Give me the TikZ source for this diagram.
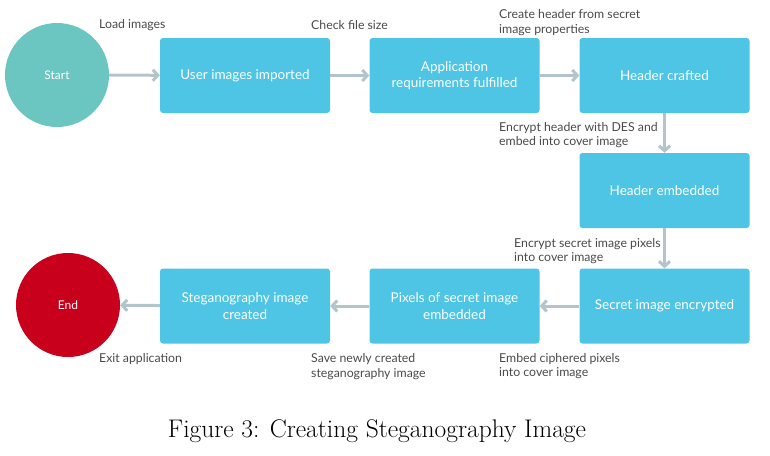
\documentclass[tikz,border=0pt]{standalone}
\usepackage{fontspec}
\newfontfamily\lato{Lato}
\usepackage{tikz}
\usetikzlibrary{arrows.meta}
\usetikzlibrary{positioning}
\definecolor{boxblue}{HTML}{4EC5E4}
\definecolor{startteal}{HTML}{6BC6C1}
\definecolor{endred}{HTML}{C8001C}
\definecolor{arrowgray}{HTML}{B4C4CB}
\definecolor{labelgray}{HTML}{4A4A4A}

\tikzset{
 stage/.style = {fill=boxblue, text=white, rounded corners=3pt, minimum width=170pt,
   minimum height=75pt, align=center, font=\lato\fontsize{13.5}{16.5}\selectfont},
 terminal/.style = {circle, minimum size=104pt, text=white, font=\lato\fontsize{12}{14}\selectfont},
 flow/.style = {draw=arrowgray, line width=3pt, -{Straight Barb[length=5pt,width=11pt]}},
 note/.style = {anchor=base west, align=left, text=labelgray, inner sep=0pt,
   font=\lato\fontsize{12.3}{14.5}\selectfont}
}

\begin{document}
\begin{tikzpicture}[x=1pt, y=-1pt]
\useasboundingbox (0,0) rectangle (770,455);

\node[terminal, fill=startteal] (start) at (57,75) {Start};
\node[stage] (imported) at (245,75.5) {User images imported};
\node[stage] (fulfilled) at (454.5,75.5) {Application\\requirements fulfilled};
\node[stage] (crafted) at (664.5,75.5) {Header crafted};
\node[stage] (embedded) at (664.5,190.5) {Header embedded};
\node[stage] (encrypted) at (664.5,306) {Secret image encrypted};
\node[stage] (pixels) at (454.5,306) {Pixels of secret image\\embedded};
\node[stage] (created) at (245,306) {Steganography image\\created};
\node[terminal, fill=endred] (finish) at (68,305) {End};

\draw[flow] (start) -- (imported);
\draw[flow] (imported) -- (fulfilled);
\draw[flow] (fulfilled) -- (crafted);
\draw[flow] (crafted) -- (embedded);
\draw[flow] (embedded) -- (encrypted);
\draw[flow] (encrypted) -- (pixels);
\draw[flow] (pixels) -- (created);
\draw[flow] (created) -- (finish);

% two-line notes sit on the baseline of their last line
\node[note] (load) at (99,28.5) {Load images};
\node[note] (size) at (311,29.5) {Check file size};
\node[note] (header) at (499,33) {Create header from secret\\image properties};
\node[note] (des) at (499,145.5) {Encrypt header with DES and\\embed into cover image};
\node[note] (secret) at (514,261.5) {Encrypt secret image pixels\\into cover image};
\node[note] (exit) at (99,362.5) {Exit application};
\node[note] (save) at (311,377) {Save newly created\\steganography image};
\node[note] (cipher) at (499,376.5) {Embed ciphered pixels\\into cover image};

\node[anchor=base, font=\fontsize{25.5}{30}\selectfont] (caption) at (377,437.5) {Figure 3: Creating Steganography Image};

\end{tikzpicture}
\end{document}
